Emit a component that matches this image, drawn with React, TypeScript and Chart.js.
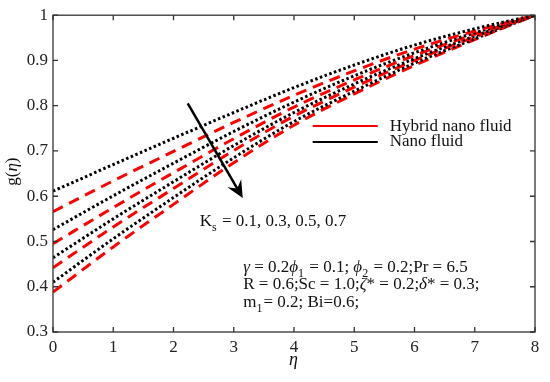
import React, { useEffect, useRef } from "react";
import { Chart, registerables } from "chart.js";

Chart.register(...registerables);

// ---- data ----
const eta = [0, 1, 2, 3, 4, 5, 6, 7, 8];
const xTickValues = [0, 1, 2, 3, 4, 5, 6, 7, 8];
const yTickValues = [0.3, 0.4, 0.5, 0.6, 0.7, 0.8, 0.9, 1];
const ksLabel = "0.1, 0.3, 0.5, 0.7";

// Nano fluid (black dotted) Ks = 0.1, 0.3, 0.5, 0.7
const nanoKs01 = [0.611, 0.67, 0.728, 0.785, 0.84, 0.89, 0.934, 0.97, 1.0];
const nanoKs03 = [0.526, 0.601, 0.673, 0.743, 0.808, 0.866, 0.917, 0.961, 1.0];
const nanoKs05 = [0.464, 0.55, 0.632, 0.712, 0.785, 0.848, 0.904, 0.954, 1.0];
const nanoKs07 = [0.41, 0.506, 0.597, 0.685, 0.765, 0.832, 0.894, 0.948, 1.0];
// Hybrid nano fluid (red dashed)
const hybridKs01 = [0.566, 0.634, 0.699, 0.763, 0.823, 0.877, 0.925, 0.965, 1.0];
const hybridKs03 = [0.495, 0.575, 0.652, 0.727, 0.797, 0.857, 0.911, 0.958, 1.0];
const hybridKs05 = [0.442, 0.532, 0.617, 0.701, 0.777, 0.841, 0.9, 0.952, 1.0];
const hybridKs07 = [0.388, 0.488, 0.582, 0.674, 0.757, 0.826, 0.889, 0.946, 1.0];

const FONT = "'Liberation Serif', 'Times New Roman', serif";
const TXT = 17;

type Seg = { t: string; i?: boolean; sub?: boolean };

function drawRich(ctx: CanvasRenderingContext2D, segs: Seg[], x: number, y: number, size: number) {
  let cx = x;
  ctx.textBaseline = "middle";
  ctx.textAlign = "left";
  for (const s of segs) {
    const fs = s.sub ? Math.round(size * 0.7) : size;
    ctx.font = `${s.i ? "italic " : ""}${fs}px ${FONT}`;
    const dy = s.sub ? size * 0.38 : 0;
    ctx.fillText(s.t, cx, y + dy);
    cx += ctx.measureText(s.t).width + (s.sub ? 1 : 0);
  }
}

const pts = (arr: number[]) => arr.map((v, i) => ({ x: eta[i], y: v }));

const overlayPlugin = {
  id: "overlay",
  afterDraw(chart: any) {
    const ctx: CanvasRenderingContext2D = chart.ctx;
    const { left, right, top, bottom } = chart.chartArea;
    const xs = chart.scales.x;
    const ys = chart.scales.y;
    ctx.save();
    // frame
    ctx.strokeStyle = "#333";
    ctx.lineWidth = 1.3;
    ctx.strokeRect(left, top, right - left, bottom - top);
    // inward ticks
    ctx.beginPath();
    for (const v of xTickValues) {
      const px = xs.getPixelForValue(v);
      ctx.moveTo(px, bottom);
      ctx.lineTo(px, bottom - 5);
      ctx.moveTo(px, top);
      ctx.lineTo(px, top + 5);
    }
    for (const v of yTickValues) {
      const py = ys.getPixelForValue(v);
      ctx.moveTo(left, py);
      ctx.lineTo(left + 5, py);
      ctx.moveTo(right, py);
      ctx.lineTo(right - 5, py);
    }
    ctx.stroke();

    // arrow
    const ax0 = xs.getPixelForValue(2.236);
    const ay0 = ys.getPixelForValue(0.805);
    const ax1 = xs.getPixelForValue(3.15);
    const ay1 = ys.getPixelForValue(0.596);
    const dx = ax1 - ax0;
    const dy = ay1 - ay0;
    const len = Math.hypot(dx, dy);
    const ux = dx / len;
    const uy = dy / len;
    const nx = -uy;
    const ny = ux;
    ctx.strokeStyle = "#000";
    ctx.fillStyle = "#000";
    ctx.lineWidth = 2.5;
    ctx.beginPath();
    ctx.moveTo(ax0, ay0);
    ctx.lineTo(ax1 - ux * 8, ay1 - uy * 8);
    ctx.stroke();
    ctx.beginPath();
    ctx.moveTo(ax1, ay1);
    ctx.lineTo(ax1 - ux * 17 + nx * 8, ay1 - uy * 17 + ny * 8);
    ctx.lineTo(ax1 - ux * 11, ay1 - uy * 11);
    ctx.lineTo(ax1 - ux * 17 - nx * 8, ay1 - uy * 17 - ny * 8);
    ctx.closePath();
    ctx.fill();

    // legend
    const lx0 = xs.getPixelForValue(4.31);
    const lx1 = xs.getPixelForValue(5.39);
    const ltx = xs.getPixelForValue(5.59);
    const ly1 = ys.getPixelForValue(0.755);
    const ly2 = ys.getPixelForValue(0.72);
    ctx.lineWidth = 2;
    ctx.strokeStyle = "#ff0000";
    ctx.beginPath();
    ctx.moveTo(lx0, ly1);
    ctx.lineTo(lx1, ly1);
    ctx.stroke();
    ctx.strokeStyle = "#000";
    ctx.beginPath();
    ctx.moveTo(lx0, ly2);
    ctx.lineTo(lx1, ly2);
    ctx.stroke();
    ctx.fillStyle = "#111";
    drawRich(ctx, [{ t: "Hybrid nano fluid" }], ltx, ly1, TXT);
    drawRich(ctx, [{ t: "Nano fluid" }], ltx, ly2, TXT);

    // Ks annotation
    drawRich(
      ctx,
      [{ t: "K" }, { t: "s", sub: true }, { t: " = " + ksLabel }],
      xs.getPixelForValue(2.435),
      ys.getPixelForValue(0.545),
      TXT
    );
    const px = xs.getPixelForValue(3.157);
    drawRich(
      ctx,
      [
        { t: "γ", i: true },
        { t: " = 0.2" },
        { t: "ϕ", i: true },
        { t: "1", sub: true },
        { t: " = 0.1; " },
        { t: "ϕ", i: true },
        { t: "2", sub: true },
        { t: " = 0.2;Pr = 6.5" },
      ],
      px,
      ys.getPixelForValue(0.442),
      TXT
    );
    drawRich(
      ctx,
      [
        { t: "R = 0.6;Sc = 1.0;" },
        { t: "ζ", i: true },
        { t: "* = 0.2;" },
        { t: "δ", i: true },
        { t: "* = 0.3;" },
      ],
      px,
      ys.getPixelForValue(0.404),
      TXT
    );
    drawRich(ctx, [{ t: "m" }, { t: "1", sub: true }, { t: "= 0.2; Bi=0.6;" }], px, ys.getPixelForValue(0.366), TXT);

    // axis titles
    ctx.fillStyle = "#111";
    drawRich(ctx, [{ t: "η", i: true }], (left + right) / 2 - 5, 360, 18);
    ctx.save();
    ctx.translate(13, (top + bottom) / 2 - 2);
    ctx.rotate(-Math.PI / 2);
    ctx.textAlign = "left";
    const w1 = (() => {
      ctx.font = `17px ${FONT}`;
      const a = ctx.measureText("g(").width + ctx.measureText(")").width;
      ctx.font = `italic 17px ${FONT}`;
      return a + ctx.measureText("η").width;
    })();
    drawRich(ctx, [{ t: "g(" }, { t: "η", i: true }, { t: ")" }], -w1 / 2, 0, 17);
    ctx.restore();

    ctx.restore();
  },
};

export default function App() {
  const ref = useRef<HTMLCanvasElement>(null);
  useEffect(() => {
    document.body.style.margin = "0";
    const canvas = ref.current!;
    const dotted = (label: string, data: number[]) => ({
      label,
      data: pts(data),
      borderColor: "#000",
      borderWidth: 3,
      borderDash: [2.5, 2.5],
      pointRadius: 0,
      fill: false,
      cubicInterpolationMode: "monotone" as const,
    });
    const dashed = (label: string, data: number[]) => ({
      label,
      data: pts(data),
      borderColor: "#ff0000",
      borderWidth: 3,
      borderDash: [11, 7],
      pointRadius: 0,
      fill: false,
      cubicInterpolationMode: "monotone" as const,
    });
    const chart = new Chart(canvas, {
      type: "line",
      data: {
        datasets: [
          dotted("Nano Ks=0.1", nanoKs01),
          dashed("Hybrid Ks=0.1", hybridKs01),
          dotted("Nano Ks=0.3", nanoKs03),
          dashed("Hybrid Ks=0.3", hybridKs03),
          dotted("Nano Ks=0.5", nanoKs05),
          dashed("Hybrid Ks=0.5", hybridKs05),
          dotted("Nano Ks=0.7", nanoKs07),
          dashed("Hybrid Ks=0.7", hybridKs07),
        ],
      },
      options: {
        responsive: false,
        animation: false,
        layout: { padding: { top: 15, right: 15, left: 0, bottom: 0 } },
        plugins: { legend: { display: false }, tooltip: { enabled: false } },
        scales: {
          x: {
            type: "linear",
            min: 0,
            max: 8,
            grid: { display: false, drawTicks: false },
            border: { display: false },
            afterBuildTicks: (s: any) => {
              s.ticks = xTickValues.map((v) => ({ value: v }));
            },
            afterFit: (s: any) => {
              s.height = 50;
            },
            ticks: {
              font: { family: FONT, size: 17 },
              color: "#222",
              padding: 5,
              maxRotation: 0,
              callback: (v: any) => String(v),
            },
          },
          y: {
            type: "linear",
            min: 0.3,
            max: 1,
            grid: { display: false, drawTicks: false },
            border: { display: false },
            afterBuildTicks: (s: any) => {
              s.ticks = yTickValues.map((v) => ({ value: v }));
            },
            afterFit: (s: any) => {
              s.width = 53;
            },
            ticks: {
              font: { family: FONT, size: 17 },
              color: "#222",
              padding: 5,
              callback: (v: any) => String(parseFloat(Number(v).toFixed(1))),
            },
          },
        },
      },
      plugins: [overlayPlugin],
    });
    return () => chart.destroy();
  }, []);
  return (
    <div style={{ position: "absolute", left: 0, top: 0, width: 550, height: 382, background: "#fff" }}>
      <canvas ref={ref} width={550} height={382} />
    </div>
  );
}
